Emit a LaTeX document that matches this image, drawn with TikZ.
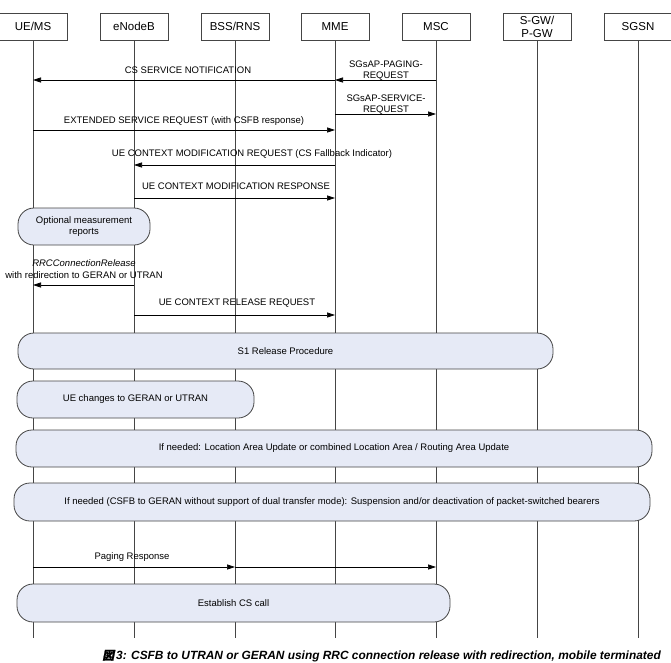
\documentclass[tikz,border=0pt]{standalone}
\usepackage{fontspec}
\setmainfont{Liberation Sans}
\newfontfamily\cjk{Noto Sans CJK JP}[FakeBold=1.2,FakeSlant=0.2]
\usetikzlibrary{arrows.meta}
\definecolor{boxfill}{HTML}{E6EAF6}
\definecolor{linegray}{HTML}{454545}
\tikzset{
 ent/.style={draw=linegray, line width=0.8pt, minimum width=68pt, minimum height=27pt, inner sep=0pt, font=\fontsize{11.5}{13}\selectfont, align=center},
 life/.style={draw=linegray, line width=0.7pt},
 msg/.style={draw=black, line width=0.7pt, -{Triangle[length=8pt,width=5pt]}},
 lbl/.style={font=\fontsize{9.5}{11}\selectfont, inner sep=0pt, align=center},
 proc/.style={draw=linegray, line width=0.8pt, fill=boxfill, rounded corners=16pt, inner sep=0pt, font=\fontsize{9.5}{11}\selectfont, align=center},
}
\begin{document}
\begin{tikzpicture}[x=1pt,y=-1pt]
\useasboundingbox (0,0) rectangle (671,662);
\fill[white] (0,0) rectangle (671,662);
% entities
\node[ent] (ue)   at (33,26.5)  {UE/MS};
\node[ent] (enb)  at (134,26.5) {eNodeB};
\node[ent] (bss)  at (235,26.5) {BSS/RNS};
\node[ent] (mme)  at (335,26.5) {MME};
\node[ent] (msc)  at (436,26.5) {MSC};
\node[ent] (sgw)  at (537,26.5) {S-GW/\\P-GW};
\node[ent] (sgsn) at (638,26.5) {SGSN};
\coordinate (bot) at (0,638);
\foreach \n in {ue,enb,bss,mme,msc,sgw,sgsn} {
  \draw[life] (\n.south) -- (\n |- bot);
}
% message y levels
\coordinate (y1) at (0,80);
\coordinate (y2) at (0,114);
\coordinate (y3) at (0,130);
\coordinate (y4) at (0,165);
\coordinate (y5) at (0,198);
\coordinate (y6) at (0,285);
\coordinate (y7) at (0,315);
\coordinate (y8) at (0,567);
% messages
\draw[msg] (mme |- y1) -- (ue |- y1);
\node[lbl] (l1) at (188,70) {CS SERVICE NOTIFICATION};
\draw[msg] (msc |- y1) -- (mme |- y1);
\node[lbl] (l2) at (386,70.5) {SGsAP-PAGING-\\REQUEST};
\draw[msg] (mme |- y2) -- (msc |- y2);
\node[lbl] (l3) at (386,104.5) {SGsAP-SERVICE-\\REQUEST};
\draw[msg] (ue |- y3) -- (mme |- y3);
\node[lbl] (l4) at (184,121) {EXTENDED SERVICE REQUEST (with CSFB response)};
\draw[msg] (mme |- y4) -- (enb |- y4);
\node[lbl] (l5) at (252,154) {UE CONTEXT MODIFICATION REQUEST (CS Fallback Indicator)};
\draw[msg] (enb |- y5) -- (mme |- y5);
\node[lbl] (l6) at (236,186) {UE CONTEXT MODIFICATION RESPONSE};
\node[proc, minimum width=132pt, minimum height=37pt] (opt) at (84,226.5) {Optional measurement\\reports};
\draw[msg] (enb |- y6) -- (ue |- y6);
\node[lbl, font=\fontsize{9.5}{12}\selectfont] (l7) at (84,269) {\itshape RRCConnectionRelease\\with redirection to GERAN or UTRAN};
\draw[msg] (enb |- y7) -- (mme |- y7);
\node[lbl] (l8) at (237,303) {UE CONTEXT RELEASE REQUEST};
% procedures
\node[proc, minimum width=535pt, minimum height=36pt] (s1) at (285.5,351) {S1 Release Procedure};
\node[proc, minimum width=237pt, minimum height=37pt] (chg) at (135.5,399.5) {UE changes to GERAN or UTRAN};
\node[proc, minimum width=636pt, minimum height=37pt] (lau) at (334,448.5) {If needed: Location Area Update or combined Location Area / Routing Area Update};
\node[proc, minimum width=636pt, minimum height=38pt] (susp) at (332,502) {If needed (CSFB to GERAN without support of dual transfer mode): Suspension and/or deactivation of packet-switched bearers};
\draw[msg] (ue |- y8) -- (bss |- y8);
\draw[msg] (bss |- y8) -- (msc |- y8);
\node[lbl] (l9) at (132,557) {Paging Response};
\node[proc, minimum width=433pt, minimum height=38pt] (cs) at (233.5,603) {Establish CS call};
% caption
\node[anchor=east, inner sep=0pt, font=\fontsize{11.9}{13}\selectfont\bfseries\itshape] (cap) at (661,656) {{\cjk 図}\,3: CSFB to UTRAN or GERAN using RRC connection release with redirection, mobile terminated};
\end{tikzpicture}
\end{document}
